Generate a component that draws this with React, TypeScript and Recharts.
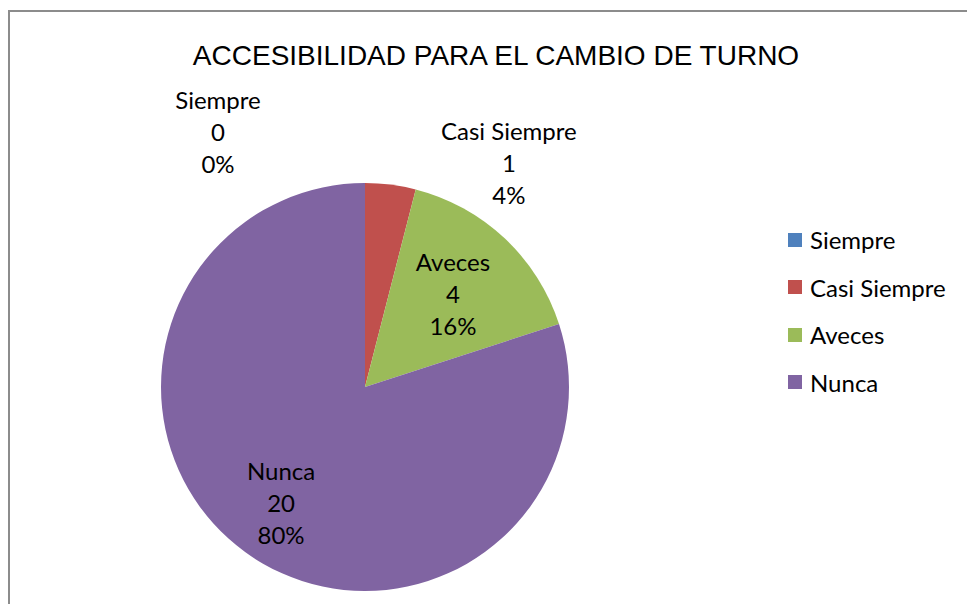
import { PieChart, Pie, Cell, Legend } from 'recharts';

const categories = ['Siempre', 'Casi Siempre', 'Aveces', 'Nunca'];
const counts = [0, 1, 4, 20];
const percentLabels = ['0%', '4%', '16%', '80%'];
const sliceColors = ['#4F81BD', '#C0504D', '#9BBB59', '#8064A2'];

// Excel "best fit" placement: [radius factor, angle in degrees or null for mid-angle]
const labelPlacement: Array<[number, number | null]> = [
  [1.446, 119.9],
  [1.309, 57.4],
  [0.63, null],
  [0.7, null],
];

const data = categories.map((name, i) => ({ name, value: counts[i], pct: percentLabels[i] }));

const LABEL_FONT = 'Lato, "Noto Sans", sans-serif';
const RAD = Math.PI / 180;

const renderLabel = (props: any) => {
  const { cx, cy, midAngle, outerRadius, index } = props;
  const [factor, fixedAngle] = labelPlacement[index];
  const ang = fixedAngle ?? midAngle;
  const r = outerRadius * factor;
  const x = cx + r * Math.cos(ang * RAD);
  const y = cy - r * Math.sin(ang * RAD);
  const lines = [categories[index], String(counts[index]), percentLabels[index]];
  return (
    <g key={`lbl-${index}`}>
      {lines.map((t, k) => (
        <text
          key={k}
          x={x}
          y={y + (k - 1) * 32}
          textAnchor="middle"
          dominantBaseline="central"
          fontFamily={LABEL_FONT}
          fontSize={24}
          fill="#000"
        >
          {t}
        </text>
      ))}
    </g>
  );
};

const LegendContent = () => (
  <div style={{ fontFamily: LABEL_FONT, fontSize: 24, color: '#000' }}>
    {categories.map((c, i) => (
      <div key={c} style={{ display: 'flex', alignItems: 'center', height: 47.5 }}>
        <span style={{ width: 14, height: 14, background: sliceColors[i], marginRight: 8, display: 'inline-block' }} />
        <span>{c}</span>
      </div>
    ))}
  </div>
);

export default function App() {
  return (
    <div style={{ position: 'absolute', left: 0, top: 0, width: 967, height: 604, overflow: 'hidden', background: '#fff' }}>
      <div
        style={{
          position: 'absolute',
          left: 8,
          top: 10,
          width: 980,
          height: 620,
          border: '2px solid #8c8c8c',
          boxSizing: 'border-box',
        }}
      />
      <div
        style={{
          position: 'absolute',
          left: 0,
          width: 992,
          top: 40,
          textAlign: 'center',
          fontFamily: '"Liberation Sans", Arial, sans-serif',
          fontSize: 28,
          lineHeight: '32px',
          color: '#000',
        }}
      >
        ACCESIBILIDAD PARA EL CAMBIO DE TURNO
      </div>
      <PieChart
        width={967}
        height={604}
        margin={{ top: 0, right: 0, bottom: 0, left: 0 }}
        style={{ position: 'absolute', left: 0, top: 0 }}
      >
        <Pie
          data={data}
          dataKey="value"
          nameKey="name"
          cx={365}
          cy={387}
          outerRadius={204}
          startAngle={90}
          endAngle={-270}
          stroke="none"
          label={renderLabel}
          labelLine={false}
          isAnimationActive={false}
        >
          {data.map((d, i) => (
            <Cell key={d.name} fill={sliceColors[i]} />
          ))}
        </Pie>
        <Legend
          layout="vertical"
          content={<LegendContent />}
          wrapperStyle={{ position: 'absolute', left: 788, top: 216, width: 180 }}
        />
      </PieChart>
    </div>
  );
}
